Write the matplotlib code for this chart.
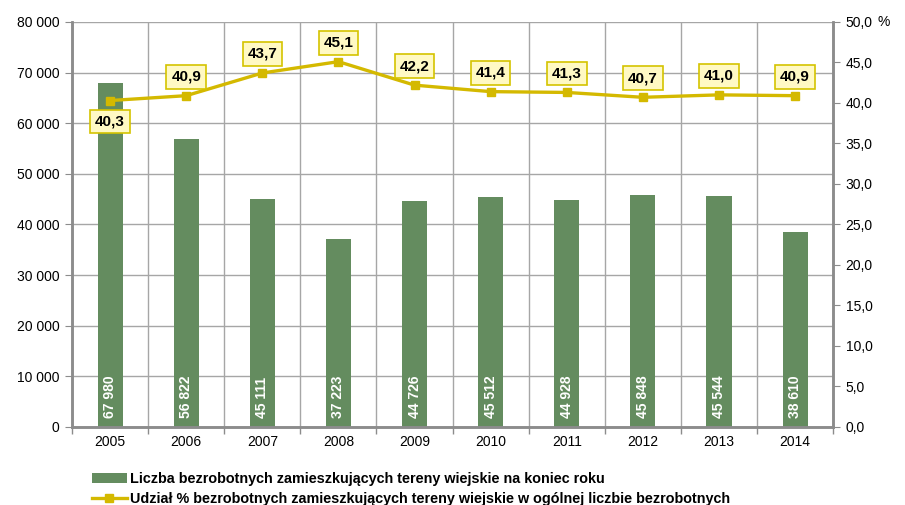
import matplotlib.pyplot as plt
from matplotlib.lines import Line2D
from matplotlib.patches import Patch
from matplotlib.ticker import FuncFormatter

plt.rcParams["font.family"] = ["Liberation Sans", "DejaVu Sans"]

years = ["2005", "2006", "2007", "2008", "2009", "2010", "2011", "2012", "2013", "2014"]
bezrobotni = [67980, 56822, 45111, 37223, 44726, 45512, 44928, 45848, 45544, 38610]
udzial = [40.3, 40.9, 43.7, 45.1, 42.2, 41.4, 41.3, 40.7, 41.0, 40.9]

bar_color = "#648c5f"
line_color = "#d4b900"
grid_color = "#a6a6a6"
spine_color = "#8c8c8c"

fig = plt.figure(figsize=(9.05, 5.05), dpi=100)
ax = fig.add_axes([0.0796, 0.1545, 0.841, 0.802])
ax2 = ax.twinx()

x = list(range(len(years)))
ax.bar(x, bezrobotni, width=0.33, color=bar_color, zorder=2)

# values written vertically inside the bars
for xi, v in zip(x, bezrobotni):
    lab = f"{v:,}".replace(",", " ")
    ax.text(xi, 1800, lab, rotation=90, ha="center", va="bottom",
            color="white", fontsize=10, fontweight="bold", zorder=3)

ax.set_xlim(-0.5, len(years) - 0.5)
ax.set_ylim(0, 80000)
ax.set_yticks(range(0, 80001, 10000))
ax.yaxis.set_major_formatter(FuncFormatter(lambda v, p: f"{int(v):,}".replace(",", " ")))
ax.set_xticks(x)
ax.set_xticklabels(years)
ax.set_xticks([i - 0.5 for i in range(len(years) + 1)], minor=True)
ax.tick_params(axis="x", which="major", length=0, labelsize=10, pad=6)
ax.tick_params(axis="x", which="minor", length=5, color=spine_color, width=1)
ax.tick_params(axis="y", length=5, color=spine_color, labelsize=10, pad=4)
ax.grid(axis="y", color=grid_color, lw=1, zorder=0)
ax.grid(axis="x", which="minor", color=grid_color, lw=1, zorder=0)
ax.set_axisbelow(True)

ax2.plot(x, udzial, color=line_color, lw=2.4, marker="s", markersize=6, zorder=4)
ax2.set_ylim(0, 50)
ax2.set_yticks(range(0, 51, 5))
ax2.yaxis.set_major_formatter(FuncFormatter(lambda v, p: f"{v:.1f}".replace(".", ",")))
ax2.tick_params(axis="y", length=5, color=spine_color, labelsize=10, pad=4)
ax2.text(1.066, 1.0, "%", transform=ax2.transAxes, fontsize=10, va="center", ha="center")

box = dict(boxstyle="square,pad=0.32", facecolor="#fff9c4", edgecolor="#d4c300", lw=1.2)
for i, (xi, v) in enumerate(zip(x, udzial)):
    dy = -21 if i == 0 else 19
    ax2.annotate(f"{v:.1f}".replace(".", ","), (xi, v), xytext=(0, dy),
                 textcoords="offset pixels", ha="center", va="center",
                 fontsize=11, fontweight="bold", bbox=box, zorder=5)

for a in (ax, ax2):
    for s in a.spines.values():
        s.set_color(spine_color)
        s.set_linewidth(1.8)
    a.spines["top"].set_visible(False)

handles = [
    Patch(facecolor=bar_color, edgecolor="none"),
    Line2D([], [], color=line_color, lw=2.4, marker="s", markersize=6),
]
labels = [
    "Liczba bezrobotnych zamieszkujących tereny wiejskie na koniec roku",
    "Udział % bezrobotnych zamieszkujących tereny wiejskie w ogólnej liczbie bezrobotnych",
]
fig.legend(handles, labels, loc="upper left", bbox_to_anchor=(92 / 905, 1 - 472 / 505),
           frameon=False, handlelength=2.4, handletextpad=0.25, labelspacing=0.4,
           borderpad=0, borderaxespad=0, prop={"weight": "bold", "size": 10.4})

fig.savefig("out.png", dpi=100, facecolor="white")
